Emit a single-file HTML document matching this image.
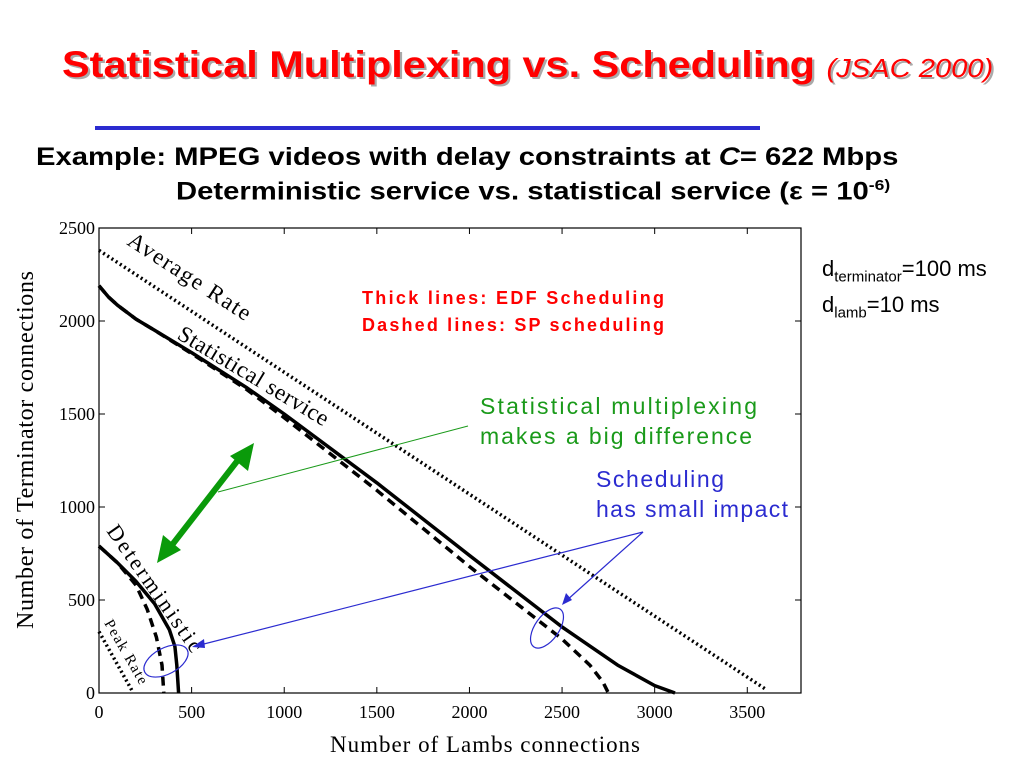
<!DOCTYPE html>
<html><head><meta charset="utf-8"><style>
body{margin:0;width:1024px;height:768px;background:#fff;position:relative;overflow:hidden;font-family:"Liberation Sans",sans-serif}
.abs{position:absolute;white-space:nowrap;transform-origin:0 0}
</style></head><body>
<div class="abs" style="left:62px;top:44px;font-size:37px;font-weight:bold;color:#f00;text-shadow:2px 2px 0 #aaa;transform:scaleX(1.12)">Statistical Multiplexing vs. Scheduling <span style="font-size:26px;font-style:italic;font-weight:normal">(JSAC 2000)</span></div>
<div class="abs" style="left:95px;top:126px;width:665px;height:4px;background:#2b2bd0"></div>
<div class="abs" style="left:36px;top:143px;font-size:25px;font-weight:bold;transform:scaleX(1.17)">Example: MPEG videos with delay constraints at <i>C</i>= 622 Mbps</div>
<div class="abs" style="left:176px;top:177px;font-size:25px;font-weight:bold;transform:scaleX(1.17)">Deterministic service vs. statistical service (ε = 10<sup style="font-size:15px">-6)</sup></div>
<div class="abs" style="left:822px;top:255px;font-size:22px;line-height:28px">d<sub style="font-size:15px">terminator</sub>=100 ms<br>d<sub style="font-size:15px">lamb</sub>=10 ms</div>
<svg id="chart" width="1024" height="768" style="position:absolute;left:0;top:0" font-family="Liberation Serif, serif"></svg>
<script>
const xTicks=[0,500,1000,1500,2000,2500,3000,3500];
const yTicks=[0,500,1000,1500,2000,2500];
const avgX=[0,3600];const avgY=[2380,20];
const statEdfX=[0,50,100,200,300,500,800,1000,1500,2000,2500,2800,3000,3110];
const statEdfY=[2190,2130,2085,2010,1950,1830,1640,1500,1130,740,355,150,40,0];
const statSpX=[0,50,100,200,300,500,800,1000,1500,2000,2500,2650,2720,2750];
const statSpY=[2190,2130,2085,2010,1950,1825,1630,1480,1090,680,290,150,60,0];
const detEdfX=[0,100,200,300,380,410,420,430];
const detEdfY=[790,700,600,480,340,250,150,0];
const detSpX=[0,100,200,260,310,340,350];
const detSpY=[790,700,580,450,300,150,0];
const peakX=[0,180];const peakY=[330,10];
const L=99,R=801,T=228,B=693,XMAX=3790,YMAX=2500;
const sx=v=>L+v/XMAX*(R-L), sy=v=>B-v/YMAX*(B-T);
const svg=document.getElementById('chart');const NS='http://www.w3.org/2000/svg';
function mk(t,a,name){const e=document.createElementNS(NS,t);for(const k in a)e.setAttribute(k,a[k]);


svg.appendChild(e);return e;}
mk('rect',{x:L,y:T,width:R-L,height:B-T,fill:'none',stroke:'#000','stroke-width':1.2},'plot-frame');
xTicks.forEach(v=>{mk('line',{x1:sx(v),x2:sx(v),y1:B,y2:B-6,stroke:'#000'},'x-tick');mk('line',{x1:sx(v),x2:sx(v),y1:T,y2:T+6,stroke:'#000'},'x-tick-top');
const t=mk('text',{x:sx(v),y:B+25,'text-anchor':'middle','font-size':18},'x-tick-label');t.textContent=v;});
yTicks.forEach(v=>{mk('line',{x1:L,x2:L+6,y1:sy(v),y2:sy(v),stroke:'#000'},'y-tick');mk('line',{x1:R,x2:R-6,y1:sy(v),y2:sy(v),stroke:'#000'},'y-tick-right');
const t=mk('text',{x:L-4,y:sy(v)+6,'text-anchor':'end','font-size':18},'y-tick-label');t.textContent=v;});
let t=mk('text',{x:485,y:752,'text-anchor':'middle','font-size':23,textLength:310},'x-axis-title');t.textContent='Number of Lambs connections';
t=mk('text',{x:0,y:0,'text-anchor':'middle','font-size':24,textLength:358,transform:'translate(33,450) rotate(-90)'},'y-axis-title');t.textContent='Number of Terminator connections';
function line(xs,ys,name,w,dash){const d=xs.map((x,i)=>(i?'L':'M')+sx(x).toFixed(1)+','+sy(ys[i]).toFixed(1)).join('');
const a={d:d,fill:'none',stroke:'#000','stroke-width':w,'stroke-linejoin':'round'};if(dash)a['stroke-dasharray']=dash;mk('path',a,name);}
line(avgX,avgY,'average-rate-line',3.5,'2 3');
line(peakX,peakY,'peak-rate-line',3.5,'2 3');
line(statSpX,statSpY,'statistical-sp-line',3.5,'9 6');
line(statEdfX,statEdfY,'statistical-edf-line',3.5);
line(detSpX,detSpY,'deterministic-sp-line',3.5,'9 6');
line(detEdfX,detEdfY,'deterministic-edf-line',3.5);
function lab(s,x,y,r,fs,len,name){const e=mk('text',{x:0,y:0,'font-size':fs,textLength:len,transform:`translate(${x},${y}) rotate(${r})`},name);e.textContent=s;}
lab('Average Rate',126,244,33,23,142,'average-rate-label');
lab('Statistical service',176,338,31,23,172,'statistical-service-label');
lab('Deterministic',106,531,55,22,150,'deterministic-label');
lab('Peak Rate',104,623,60,15,72,'peak-rate-label');
const red=[['Thick lines: EDF Scheduling',304],['Dashed lines: SP scheduling',331]];
red.forEach(r=>{const e=mk('text',{x:362,y:r[1],'font-size':18,'font-weight':'bold',fill:'#f00','font-family':'Liberation Sans, sans-serif',textLength:302},'legend-note');e.textContent=r[0];});
[['Statistical multiplexing',414,277],['makes a big difference',444,272]].forEach(r=>{const e=mk('text',{x:480,y:r[1],'font-size':23,fill:'#1a9a1a','font-family':'Liberation Sans, sans-serif',textLength:r[2]},'multiplexing-note');e.textContent=r[0];});
[['Scheduling',487,128],['has small impact',517,192]].forEach(r=>{const e=mk('text',{x:596,y:r[1],'font-size':23,fill:'#2b2bd0','font-family':'Liberation Sans, sans-serif',textLength:r[2]},'scheduling-note');e.textContent=r[0];});
mk('line',{x1:218,y1:492,x2:468,y2:426,stroke:'#1a9a1a','stroke-width':1},'green-pointer');
mk('line',{x1:172,y1:545,x2:238,y2:460,stroke:'#0a9a0a','stroke-width':6},'green-double-arrow');
mk('polygon',{points:'157,563 163,535 181,550',fill:'#0a9a0a'},'green-arrowhead-low');
mk('polygon',{points:'254,443 248,471 230,456',fill:'#0a9a0a'},'green-arrowhead-high');
mk('line',{x1:643,y1:532,x2:196,y2:646,stroke:'#2b2bd0','stroke-width':1.2},'blue-pointer-1');
mk('line',{x1:643,y1:532,x2:566,y2:601,stroke:'#2b2bd0','stroke-width':1.2},'blue-pointer-2');
mk('polygon',{points:'192,647 204,639 205,648',fill:'#2b2bd0'},'blue-arrowhead-1');
mk('polygon',{points:'562,605 566,593 572,600',fill:'#2b2bd0'},'blue-arrowhead-2');
mk('ellipse',{cx:166,cy:661,rx:24,ry:13,transform:'rotate(-28 166 661)',fill:'none',stroke:'#2b2bd0','stroke-width':1.2},'blue-ellipse-deterministic');
mk('ellipse',{cx:547,cy:628,rx:12,ry:23,transform:'rotate(35 547 628)',fill:'none',stroke:'#2b2bd0','stroke-width':1.2},'blue-ellipse-statistical');
</script>
</body></html>
